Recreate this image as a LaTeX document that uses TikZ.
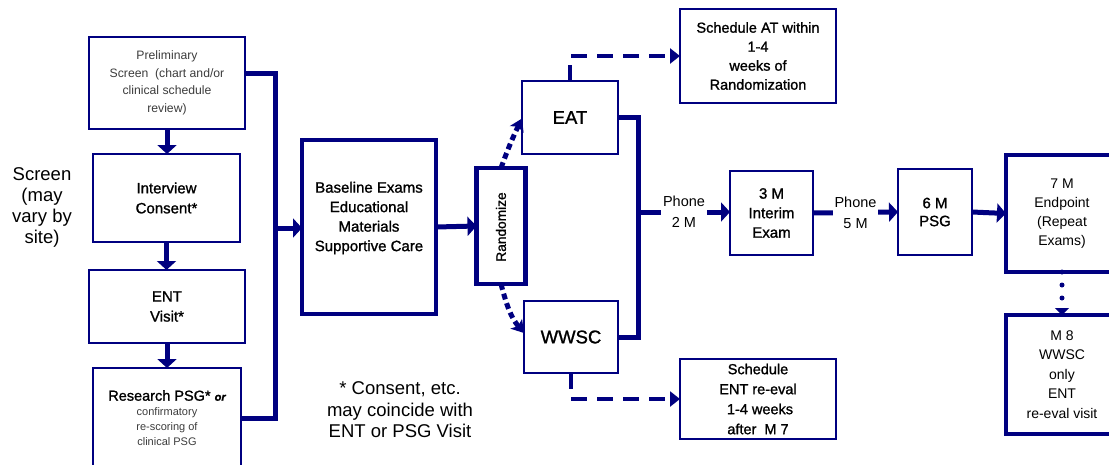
\documentclass[tikz,border=0pt]{standalone}
\usepackage{fontspec}
\setmainfont{Liberation Sans}
\newfontfamily\heavy{Liberation Sans}[FakeBold=1.2]
\usetikzlibrary{arrows.meta}
\definecolor{navy}{RGB}{0,0,128}
\definecolor{txtgray}{RGB}{60,60,60}
\newcommand{\smallgray}{\color{txtgray}\fontsize{11}{15}\selectfont}
\begin{document}
\begin{tikzpicture}[x=1pt,y=-1pt,
  thinbox/.style={draw=navy, line width=2pt, inner sep=0pt, outer sep=0pt, align=center},
  thickbox/.style={draw=navy, line width=4.5pt, inner sep=0pt, outer sep=0pt, align=center},
  txt/.style={inner sep=0pt, align=center},
  conn/.style={draw=navy, line width=5pt, line join=miter},
  arr/.style={conn, -{Triangle[length=9pt,width=19pt]}},
  dashconn/.style={draw=navy, line width=4pt, dash pattern=on 16pt off 10pt, -{Triangle[length=10pt,width=15pt]}},
  dotconn/.style={draw=navy, line width=5pt, dash pattern=on 6pt off 4pt, -{Stealth[length=12pt,width=15pt,inset=3pt]}},
  rounddots/.style={draw=navy, line width=5pt, line cap=round, dash pattern=on 0pt off 13pt, -{Triangle[length=7pt,width=14pt]}},
  phone/.style={fill=white, inner sep=2pt, align=center, font=\fontsize{14.5}{21}\selectfont}
]
\useasboundingbox (0,0) rectangle (1109,464);

% left column
\node[thinbox, minimum width=156pt, minimum height=92pt, text=txtgray, font=\fontsize{12.2}{17.5}\selectfont] (prelim) at (167,83)
  {Preliminary\\Screen~ (chart and/or\\clinical schedule\\review)};
\node[thinbox, minimum width=147pt, minimum height=88pt, font=\heavy\fontsize{15}{20}\selectfont] (interview) at (166.5,198)
  {Interview\\Consent*};
\node[thinbox, minimum width=156pt, minimum height=73pt, font=\heavy\fontsize{15}{20}\selectfont] (ent) at (167,306.5)
  {ENT\\Visit*};
\node[thinbox, minimum width=148pt, minimum height=100pt] (research) at (167,418) {};
\node[txt, font=\fontsize{11}{15}\selectfont] (researchT) at (167,418)
  {\heavy\fontsize{14.5}{18}\selectfont Research PSG* {\fontsize{11}{13}\selectfont\bfseries\itshape or}\\
   \smallgray confirmatory\\ \smallgray re-scoring of\\ \smallgray clinical PSG};

\node[txt, font=\fontsize{18.5}{21}\selectfont] (screen) at (42,207) {Screen\\(may\\vary by\\site)};

% baseline and randomize
\node[thickbox, minimum width=134pt, minimum height=174pt] (baseline) at (369,227) {};
\node[txt, font=\heavy\fontsize{15}{19.5}\selectfont] (baselineT) at (369,218)
  {Baseline Exams\\Educational\\Materials\\Supportive Care};
\node[thickbox, minimum width=49pt, minimum height=116pt] (randomize) at (501,226) {};
\node[txt, rotate=90, font=\heavy\fontsize{13.7}{16}\selectfont] (randomizeT) at (501,227) {Randomize};

% arms
\node[thinbox, minimum width=96pt, minimum height=73pt, font=\heavy\fontsize{18.5}{22}\selectfont] (eat) at (570,117.5) {EAT};
\node[thinbox, minimum width=94pt, minimum height=72pt, font=\heavy\fontsize{18.5}{22}\selectfont] (wwsc) at (571,337) {WWSC};
\node[thinbox, minimum width=156pt, minimum height=94pt, font=\heavy\fontsize{14.5}{19}\selectfont] (schedAT) at (758,56)
  {Schedule AT within\\1-4\\weeks of\\Randomization};
\node[thinbox, minimum width=156pt, minimum height=80pt, font=\heavy\fontsize{14.5}{20}\selectfont] (schedENT) at (758,399)
  {Schedule\\ENT re-eval\\~1-4 weeks\\after~ M 7};

% follow-up
\node[thinbox, minimum width=83pt, minimum height=84pt, font=\heavy\fontsize{15}{19.5}\selectfont] (m3) at (771.5,213)
  {3 M\\Interim\\Exam};
\node[thinbox, minimum width=74pt, minimum height=86pt, font=\heavy\fontsize{15}{18}\selectfont] (m6) at (935,212)
  {6 M\\PSG};
\node[thickbox, minimum width=112pt, minimum height=117pt, font=\fontsize{14}{19}\selectfont] (m7) at (1062,213.5)
  {7 M\\Endpoint\\(Repeat\\Exams)};
\node[thickbox, minimum width=112pt, minimum height=119pt, font=\fontsize{14}{19.5}\selectfont] (m8) at (1062,374.5)
  {M 8\\WWSC\\only\\ENT\\re-eval visit};

\node[txt, font=\fontsize{18.5}{21.5}\selectfont] (note) at (400,410)
  {* Consent, etc.\\may coincide with\\ENT or PSG Visit};

% coordinates
\coordinate (bk) at (275,228);
\coordinate (bk2) at (638,212);

% connectors left
\draw[arr] (prelim.south) -- (prelim.south |- interview.north);
\draw[arr] (interview.south) -- (interview.south |- ent.north);
\draw[arr] (ent.south) -- (ent.south |- research.north);
\draw[conn] ([yshift=10pt]prelim.east) -| (bk) |- (research.east);
\draw[arr] (bk) -- (bk -| baseline.west);
\draw[arr] (baseline.east) -- (randomize.west);

% randomization
\draw[dotconn] (randomize.north) to[bend left=3] ([yshift=-1pt]eat.west);
\draw[dotconn] (randomize.south) to[out=-75,in=130] ([yshift=4pt]wwsc.west);
\draw[dashconn] (eat.north) |- (schedAT.west);
\draw[dashconn] (wwsc.south) |- (schedENT.west);
\draw[conn] (eat.east) -| (bk2) |- (wwsc.east);

% follow-up
\draw[arr] (bk2) -- node[phone] (ph2) {Phone\\2 M} (bk2 -| m3.west);
\draw[arr] (m3.east) -- node[phone] (ph5) {Phone\\5 M} (m6.west);
\draw[arr] (m6.east) -- (m7.west);
\draw[rounddots] (m7.south) -- (m8.north);
\end{tikzpicture}
\end{document}
